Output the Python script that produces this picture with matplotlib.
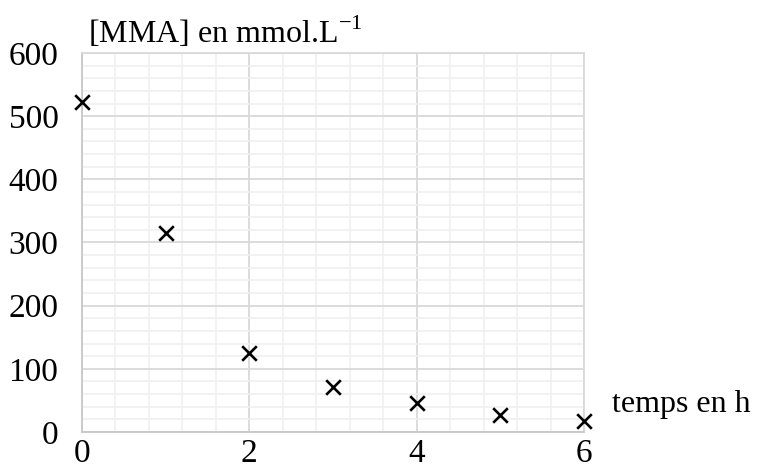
import matplotlib
matplotlib.use("Agg")
import matplotlib.pyplot as plt
from matplotlib.ticker import MultipleLocator

plt.rcParams['font.family'] = ['Liberation Serif', 'DejaVu Serif']
plt.rcParams['mathtext.fontset'] = 'custom'
plt.rcParams['mathtext.rm'] = 'Liberation Serif'

# data
temps = [0, 1, 2, 3, 4, 5, 6]
mma = [522, 315, 125, 71, 46, 27, 17]

fig = plt.figure(figsize=(7.58, 4.70), dpi=100)
ax = fig.add_axes([0.1082, 0.0809, 0.6622, 0.8063])

ax.set_xlim(0, 6)
ax.set_ylim(0, 600)
ax.xaxis.set_major_locator(MultipleLocator(2))
ax.xaxis.set_minor_locator(MultipleLocator(0.4))
ax.yaxis.set_major_locator(MultipleLocator(100))
ax.yaxis.set_minor_locator(MultipleLocator(20))

ax.grid(which="minor", color="#f0f0f0", linewidth=1.2)
ax.grid(which="major", color="#d9d9d9", linewidth=1.3)
ax.set_axisbelow(True)
for s in ax.spines.values():
    s.set_color("#d9d9d9")
    s.set_linewidth(1.3)
ax.spines["left"].set_color("#c8c8c8")
ax.spines["bottom"].set_color("#c8c8c8")

ax.tick_params(which="both", length=0, labelsize=24)
ax.tick_params(axis="y", pad=17)
ax.tick_params(axis="x", pad=5)

ax.scatter(temps, mma, marker="x", color="black", s=110, linewidths=1.9,
           clip_on=False, zorder=3)

fig.text(0.116, 0.908, "[MMA] en mmol.L$^{-1}$", fontsize=23, ha="left", va="baseline")
fig.text(0.807, 0.123, "temps en h", fontsize=23, ha="left", va="baseline")

fig.savefig("out.png", dpi=100)
